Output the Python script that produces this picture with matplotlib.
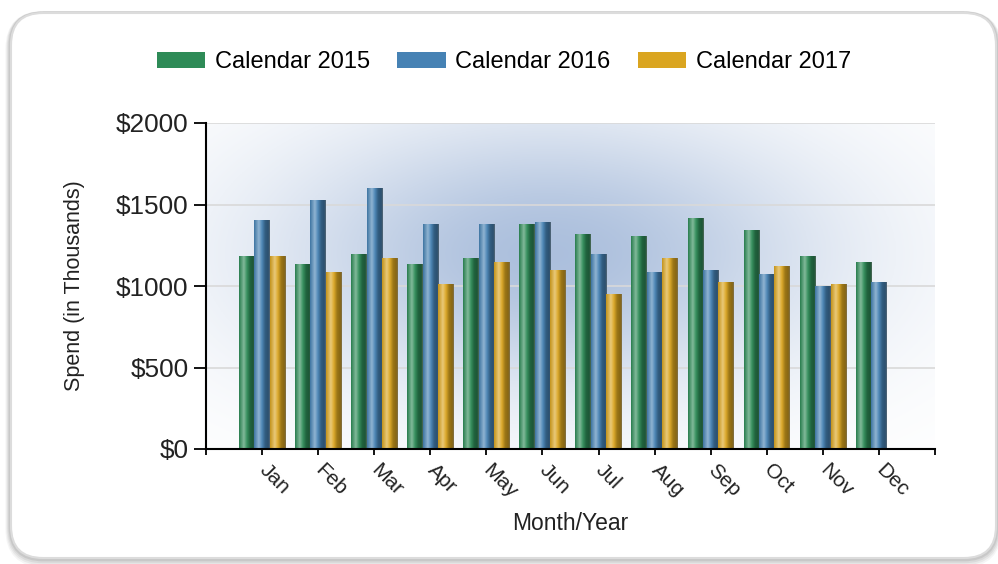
import numpy as np
import matplotlib
matplotlib.use('Agg')
import matplotlib.pyplot as plt
from matplotlib.colors import LinearSegmentedColormap, to_rgb
from matplotlib.patches import FancyBboxPatch
from matplotlib.transforms import ScaledTranslation

plt.rcParams['font.family'] = ['Liberation Sans', 'DejaVu Sans']

months = ['Jan', 'Feb', 'Mar', 'Apr', 'May', 'Jun', 'Jul', 'Aug', 'Sep', 'Oct', 'Nov', 'Dec']
series_names = ['Calendar 2015', 'Calendar 2016', 'Calendar 2017']
spend_2015 = [1180, 1130, 1195, 1130, 1170, 1380, 1315, 1305, 1415, 1340, 1180, 1145]
spend_2016 = [1400, 1525, 1600, 1380, 1380, 1390, 1195, 1085, 1095, 1070, 995, 1020]
spend_2017 = [1180, 1085, 1170, 1010, 1145, 1095, 950, 1170, 1020, 1120, 1010, np.nan]
colors = ['#2e8b57', '#4682b4', '#daa520']
yticks = [0, 500, 1000, 1500, 2000]


def shade(c, f):
    r = np.array(to_rgb(c))
    if f >= 1:
        return tuple(r + (1 - r) * (f - 1))
    return tuple(r * f)


def cyl_cmap(c):
    edge = tuple(np.array(shade(c, 0.6)) * 0.5 + 0.25)
    return LinearSegmentedColormap.from_list(
        'cyl', [(0.0, shade(c, 0.9)), (0.3, shade(c, 1.4)), (0.5, shade(c, 1.05)),
                (0.7, shade(c, 0.72)), (0.9, shade(c, 0.62)), (1.0, edge)])


fig = plt.figure(figsize=(9.98, 5.64), dpi=100)
tr = fig.dpi_scale_trans

# card with soft shadow (inches)
for i, a in enumerate([0.04, 0.05, 0.06, 0.08]):
    off = (4 - i) * 0.015
    fig.add_artist(FancyBboxPatch((0.11, 0.06 - off * 0.6), 9.85, 5.45,
                                  boxstyle='round,pad=0,rounding_size=0.32',
                                  transform=tr, facecolor='none',
                                  edgecolor=(0, 0, 0, a), linewidth=2 + off * 100, zorder=0))
fig.add_artist(FancyBboxPatch((0.11, 0.06), 9.85, 5.45,
                              boxstyle='round,pad=0,rounding_size=0.32',
                              transform=tr, facecolor='white',
                              edgecolor='#dcdcdc', linewidth=1.5, zorder=0.5))

ax = fig.add_axes([206 / 998, 115 / 564, 729 / 998, 326 / 564])
ax.set_zorder(2)
ax.patch.set_alpha(0)

x = np.arange(1, 13)
n = len(months) + 1

# background gradient
gx = np.linspace(0, 1, 300)
gy = np.linspace(0, 1, 200)
GX, GY = np.meshgrid(gx, gy)
t = np.exp(-((GX - 0.47) / 0.38) ** 2 - ((GY - 0.6) / 0.42) ** 2) * 0.97
dark = np.array([0.66, 0.74, 0.86])
bg = np.ones((200, 300, 3)) * (1 - t[..., None]) + dark * t[..., None]
bg = bg * 0.985 + 0.015
ax.imshow(bg, extent=[0, n, 0, 2000], origin='lower', aspect='auto', zorder=0)

w = 0.275
handles = []
for k, (vals, c, name) in enumerate(zip([spend_2015, spend_2016, spend_2017], colors, series_names)):
    bars = ax.bar(x + (k - 1) * w, vals, width=w, color=c, label=name, zorder=3)
    handles.append(bars)
    cm = cyl_cmap(c)
    grad = np.linspace(0, 1, 64).reshape(1, -1)
    for b in bars:
        h = b.get_height()
        if np.isnan(h):
            continue
        ax.imshow(grad, cmap=cm, extent=[b.get_x(), b.get_x() + b.get_width(), 0, h],
                  aspect='auto', zorder=4)

ax.set_xlim(0, n)
ax.set_ylim(0, 2000)
ax.set_yticks(yticks)
ax.set_yticklabels(['\\$%d' % v for v in yticks], fontsize=18.8, color='#222222')
ax.set_xticks(np.arange(0, n + 1))
ax.set_xticklabels([''] + months + [''], rotation=-45, ha='left', va='center',
                   rotation_mode='anchor', fontsize=15, color='#222222')
shift = ScaledTranslation(-0.06, 0.0, fig.dpi_scale_trans)
for lab in ax.get_xticklabels():
    lab.set_transform(lab.get_transform() + shift)
ax.tick_params(axis='x', length=4, width=1.3, pad=9)
ax.tick_params(axis='y', length=8.5, width=1.3, pad=4)
ax.grid(axis='y', color='#d9d9d9', linewidth=1.2, zorder=1)
ax.set_axisbelow(True)
for s in ['top', 'right']:
    ax.spines[s].set_visible(False)
for s in ['left', 'bottom']:
    ax.spines[s].set_linewidth(1.5)
    ax.spines[s].set_zorder(6)

ax.set_ylabel('Spend (in Thousands)', fontsize=15.5, color='#222222', labelpad=22)
ax.set_xlabel('Month/Year', fontsize=16.5, color='#222222', labelpad=7)

leg = fig.legend(handles, series_names, loc='center', bbox_to_anchor=(504 / 998, 1 - 62 / 564),
                 ncol=3, frameon=False, fontsize=17, handlelength=2.05, handleheight=0.65,
                 handletextpad=0.42, columnspacing=1.15)
leg.set_zorder(3)

fig.savefig('out.png', dpi=100)
